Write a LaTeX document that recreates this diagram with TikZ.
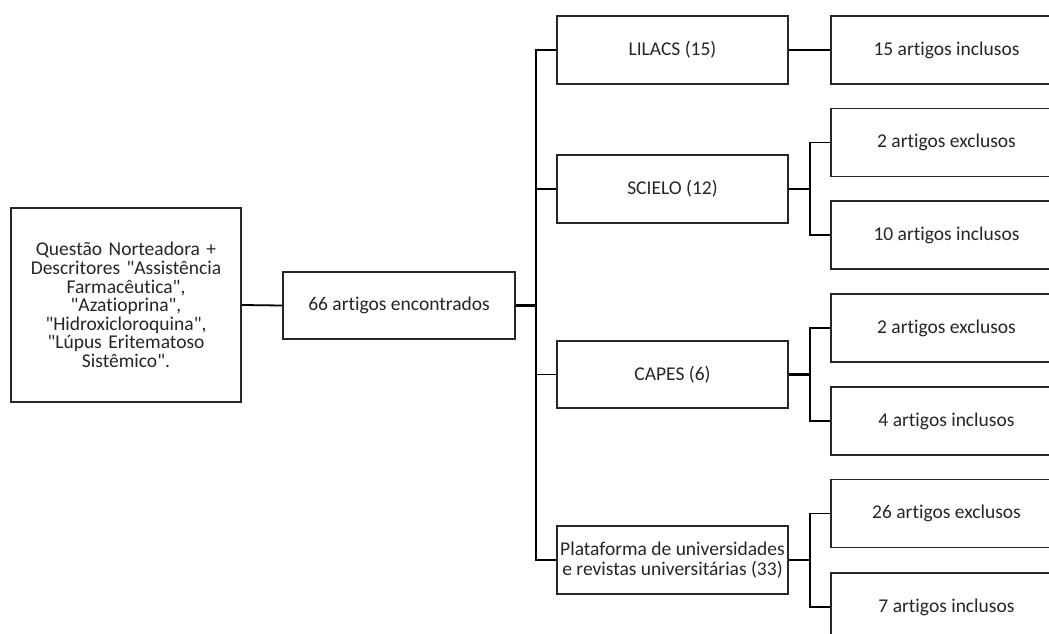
\documentclass[tikz,border=0pt]{standalone}
\usepackage{fontspec}
\setmainfont{Carlito}[Ligatures={TeXOff,NoCommon}]
\begin{document}
\begin{tikzpicture}[x=1pt,y=-1pt,
  box/.style={draw=black!85, line width=1.6pt, fill=white, inner sep=0pt,
    minimum width=231pt, minimum height=68pt, align=center, text=black!85,
    font=\fontsize{19.5}{20}\selectfont},
  wire/.style={line width=1.8pt, black},
  thick wire/.style={line width=2.8pt, black}]
\clip (0,0) rectangle (1049,634);
\fill[white] (0,0) rectangle (1049,634);
% main nodes
\node[box, minimum width=230pt, minimum height=194pt, text width=228pt,
  font=\fontsize{19.5}{18.6}\selectfont] (q) at (126,305)
  {Questão Norteadora +\\Descritores "Assistência\\Farmacêutica",\\"Azatioprina",\\"Hidroxicloroquina",\\"Lúpus Eritematoso\\Sistêmico".};
\node[box, minimum width=232pt, minimum height=67pt] (a66) at (399,305.5) {66 artigos encontrados};
\node[box] (lil) at (672.5,50) {LILACS (15)};
\node[box] (sci) at (672.5,189) {SCIELO (12)};
\node[box, minimum height=67pt] (cap) at (672.5,374.5) {CAPES (6)};
\node[box] (pla) at (672.5,560) {Plataforma de universidades\\e revistas universitárias (33)};
% result nodes
\node[box] (r1) at (946.5,50) {15 artigos inclusos};
\node[box] (r2) at (946.5,142.5) {2 artigos exclusos};
\node[box] (r3) at (946.5,235) {10 artigos inclusos};
\node[box] (r4) at (946.5,328) {2 artigos exclusos};
\node[box] (r5) at (946.5,421) {4 artigos inclusos};
\node[box] (r6) at (946.5,513.5) {26 artigos exclusos};
\node[box] (r7) at (946.5,607) {7 artigos inclusos};
% bus coordinates
\coordinate (bx) at (536,0);
\coordinate (sx) at (810,0);
% connectors
\draw[wire] (q.east) -- (a66.west);
\draw[thick wire] (a66.east) -- (a66.east -| bx);
\draw[wire] (lil.west) -- (lil.west -| bx) -- (sci.west -| bx);
\draw[thick wire] (sci.west -| bx) -- (cap.west -| bx);
\draw[wire] (cap.west -| bx) -- (pla.west -| bx) -- (pla.west);
\draw[wire] (sci.west -| bx) -- (sci.west);
\draw[wire] (cap.west -| bx) -- (cap.west);
\draw[wire] (lil.east) -- (r1.west);
\draw[thick wire] (sci.east) -- (sci.east -| sx);
\draw[wire] (r2.west) -- (r2.west -| sx) -- (r3.west -| sx) -- (r3.west);
\draw[thick wire] (cap.east) -- (cap.east -| sx);
\draw[wire] (r4.west) -- (r4.west -| sx) -- (r5.west -| sx) -- (r5.west);
\draw[thick wire] (pla.east) -- (pla.east -| sx);
\draw[wire] (r6.west) -- (r6.west -| sx) -- (r7.west -| sx) -- (r7.west);
\end{tikzpicture}
\end{document}
